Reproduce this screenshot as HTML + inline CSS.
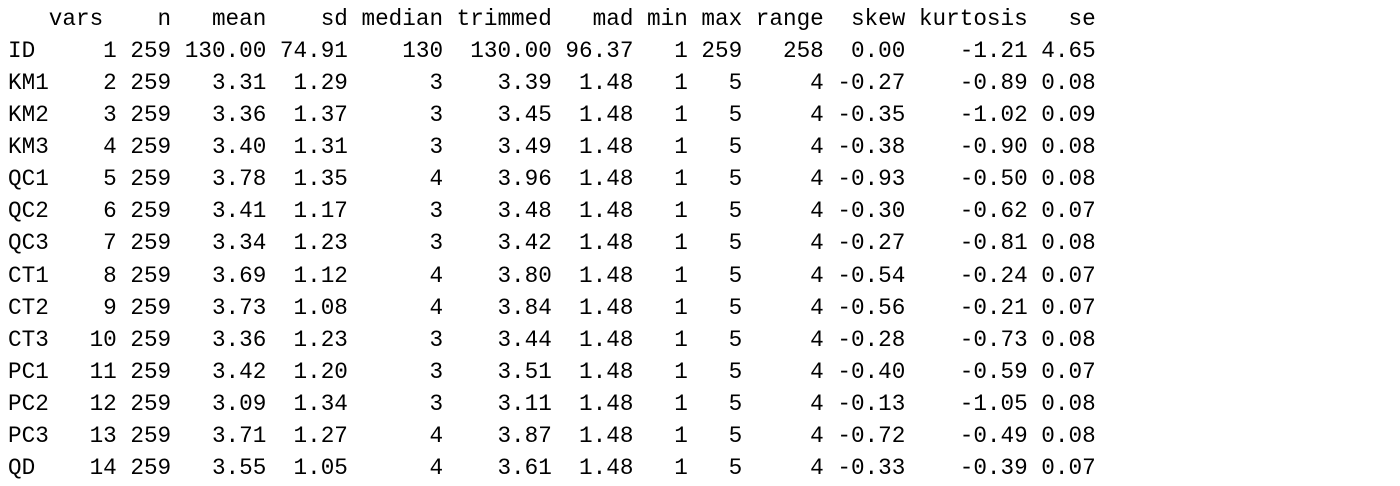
<!DOCTYPE html>
<html><head><meta charset="utf-8"><style>
html,body{margin:0;padding:0;background:#fff;width:1400px;height:486px;overflow:hidden}
pre{position:absolute;left:8px;top:3px;margin:0;font-family:"Liberation Mono",monospace;font-size:22.67px;line-height:32.07px;color:#000}
</style></head><body>
<pre><span>   vars    n   mean    sd median trimmed   mad min max range  skew kurtosis   se</span>
<span>ID     1 259 130.00 74.91    130  130.00 96.37   1 259   258  0.00    -1.21 4.65</span>
<span>KM1    2 259   3.31  1.29      3    3.39  1.48   1   5     4 -0.27    -0.89 0.08</span>
<span>KM2    3 259   3.36  1.37      3    3.45  1.48   1   5     4 -0.35    -1.02 0.09</span>
<span>KM3    4 259   3.40  1.31      3    3.49  1.48   1   5     4 -0.38    -0.90 0.08</span>
<span>QC1    5 259   3.78  1.35      4    3.96  1.48   1   5     4 -0.93    -0.50 0.08</span>
<span>QC2    6 259   3.41  1.17      3    3.48  1.48   1   5     4 -0.30    -0.62 0.07</span>
<span>QC3    7 259   3.34  1.23      3    3.42  1.48   1   5     4 -0.27    -0.81 0.08</span>
<span>CT1    8 259   3.69  1.12      4    3.80  1.48   1   5     4 -0.54    -0.24 0.07</span>
<span>CT2    9 259   3.73  1.08      4    3.84  1.48   1   5     4 -0.56    -0.21 0.07</span>
<span>CT3   10 259   3.36  1.23      3    3.44  1.48   1   5     4 -0.28    -0.73 0.08</span>
<span>PC1   11 259   3.42  1.20      3    3.51  1.48   1   5     4 -0.40    -0.59 0.07</span>
<span>PC2   12 259   3.09  1.34      3    3.11  1.48   1   5     4 -0.13    -1.05 0.08</span>
<span>PC3   13 259   3.71  1.27      4    3.87  1.48   1   5     4 -0.72    -0.49 0.08</span>
<span>QD    14 259   3.55  1.05      4    3.61  1.48   1   5     4 -0.33    -0.39 0.07</span></pre>
</body></html>
